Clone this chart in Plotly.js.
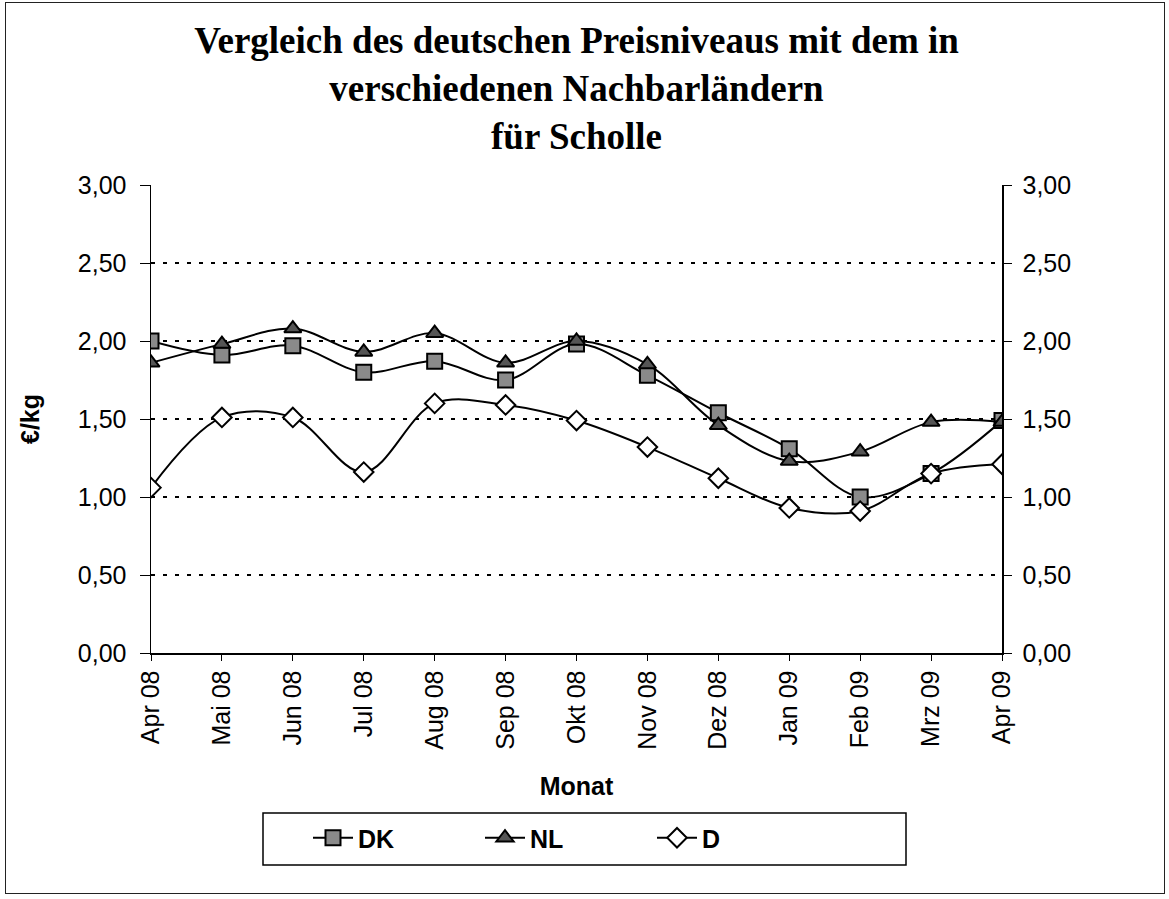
<!DOCTYPE html>
<html>
<head>
<meta charset="utf-8">
<script src="https://cdn.plot.ly/plotly-3.0.1.min.js"></script>
<style>
  html, body { margin: 0; padding: 0; background: #fff; }
  #wrap { position: relative; width: 1169px; height: 899px; }
  #chart { position: absolute; left: 0; top: 0; width: 1169px; height: 899px; }
  #frame { position: absolute; left: 5px; top: 2px; width: 1158px; height: 890px; border: 1.5px solid #222; pointer-events: none; }
</style>
</head>
<body>
<div id="wrap">
  <div id="chart"></div>
  <div id="frame"></div>
</div>
<script>
const months = ["Apr 08","Mai 08","Jun 08","Jul 08","Aug 08","Sep 08","Okt 08","Nov 08","Dez 08","Jan 09","Feb 09","Mrz 09","Apr 09"];
const dk = [2.00, 1.91, 1.97, 1.80, 1.87, 1.75, 1.98, 1.78, 1.54, 1.31, 1.00, 1.15, 1.49];
const nl = [1.86, 1.98, 2.08, 1.93, 2.05, 1.86, 2.00, 1.85, 1.46, 1.23, 1.29, 1.48, 1.48];
const de = [1.06, 1.51, 1.51, 1.16, 1.60, 1.59, 1.49, 1.32, 1.12, 0.93, 0.91, 1.15, 1.21];
const yTicks = [0, 0.5, 1, 1.5, 2, 2.5, 3];
const yTickText = ["0,00","0,50","1,00","1,50","2,00","2,50","3,00"];

const xIdx = months.map((m, i) => i);

const lineStyle = {color: '#000', width: 2, shape: 'spline', smoothing: 1};

const traces = [
  {x: xIdx, y: dk, name: 'DK', mode: 'lines+markers', line: lineStyle,
   marker: {symbol: 'square', size: 15, color: '#8a8a8a', line: {color: '#000', width: 2}}},
  {x: xIdx, y: nl, name: 'NL', mode: 'lines+markers', line: lineStyle,
   marker: {symbol: 'triangle-up', size: 15, color: '#555', line: {color: '#000', width: 2}}},
  {x: xIdx, y: de, name: 'D', mode: 'lines+markers', line: lineStyle,
   marker: {symbol: 'diamond', size: 15, color: '#fff', line: {color: '#000', width: 2}}},
  {x: xIdx, y: dk, yaxis: 'y2', mode: 'lines', showlegend: false, hoverinfo: 'skip',
   line: {color: 'rgba(0,0,0,0)', width: 0}}
];

const sans = 'Liberation Sans, Arial, sans-serif';
const axFont = {family: sans, size: 25, color: '#000'};

const layout = {
  width: 1169, height: 899,
  margin: {l: 151, r: 167, t: 185, b: 246, autoexpand: false},
  paper_bgcolor: '#fff', plot_bgcolor: '#fff',
  title: {
    text: 'Vergleich des deutschen Preisniveaus mit dem in<br>verschiedenen Nachbarländern<br>für Scholle',
    font: {family: 'Liberation Serif, Times New Roman, serif', size: 37, color: '#000', weight: 'bold'},
    x: 0.5, xref: 'paper', xanchor: 'center',
    y: 1, yref: 'paper', yanchor: 'bottom', pad: {b: 132}
  },
  xaxis: {
    range: [0, 12], tickmode: 'array', tickvals: xIdx, ticktext: months,
    tickangle: -90, tickfont: axFont, ticks: 'outside', ticklen: 6, tickcolor: '#000', tickwidth: 1,
    showline: true, linecolor: '#000', linewidth: 1.5, showgrid: false, zeroline: false,
    title: {text: 'Monat', font: {family: sans, size: 25, color: '#000', weight: 'bold'}, standoff: 28},
    automargin: false
  },
  yaxis: {
    range: [0, 3], tickmode: 'array', tickvals: yTicks, ticktext: yTickText, tickfont: axFont,
    ticks: 'outside', ticklen: 10, tickcolor: '#000', tickwidth: 1, ticklabelstandoff: 8,
    showline: true, linecolor: '#000', linewidth: 1.5,
    showgrid: true, gridcolor: '#000', gridwidth: 2, griddash: '4px,8px', zeroline: false,
    title: {text: '€/kg', font: {family: sans, size: 25, color: '#000', weight: 'bold'}, standoff: 31},
    automargin: false
  },
  yaxis2: {
    range: [0, 3], overlaying: 'y', side: 'right', tickmode: 'array', tickvals: yTicks, ticktext: yTickText,
    tickfont: axFont, ticks: 'outside', ticklen: 8, tickcolor: '#000', tickwidth: 1, ticklabelstandoff: 6,
    showline: true, linecolor: '#000', linewidth: 1.5, showgrid: false, zeroline: false, automargin: false
  },
  showlegend: true,
  legend: {
    orientation: 'h', x: (308 - 151) / 851, xanchor: 'left', y: (653 - 815) / 468, yanchor: 'top',
    font: {family: sans, size: 25, color: '#000', weight: 'bold'},
    bgcolor: 'rgba(0,0,0,0)', borderwidth: 0,
    entrywidth: 117, entrywidthmode: 'pixels', itemwidth: 40
  },
  shapes: [
    {type: 'rect', xref: 'paper', yref: 'paper',
     x0: (263 - 151) / 851, x1: (906 - 151) / 851, y0: (653 - 865) / 468, y1: (653 - 813) / 468,
     line: {color: '#000', width: 1.5}, fillcolor: 'rgba(0,0,0,0)'}
  ]
};

Plotly.newPlot('chart', traces, layout, {displayModeBar: false, staticPlot: true});
</script>
</body>
</html>
